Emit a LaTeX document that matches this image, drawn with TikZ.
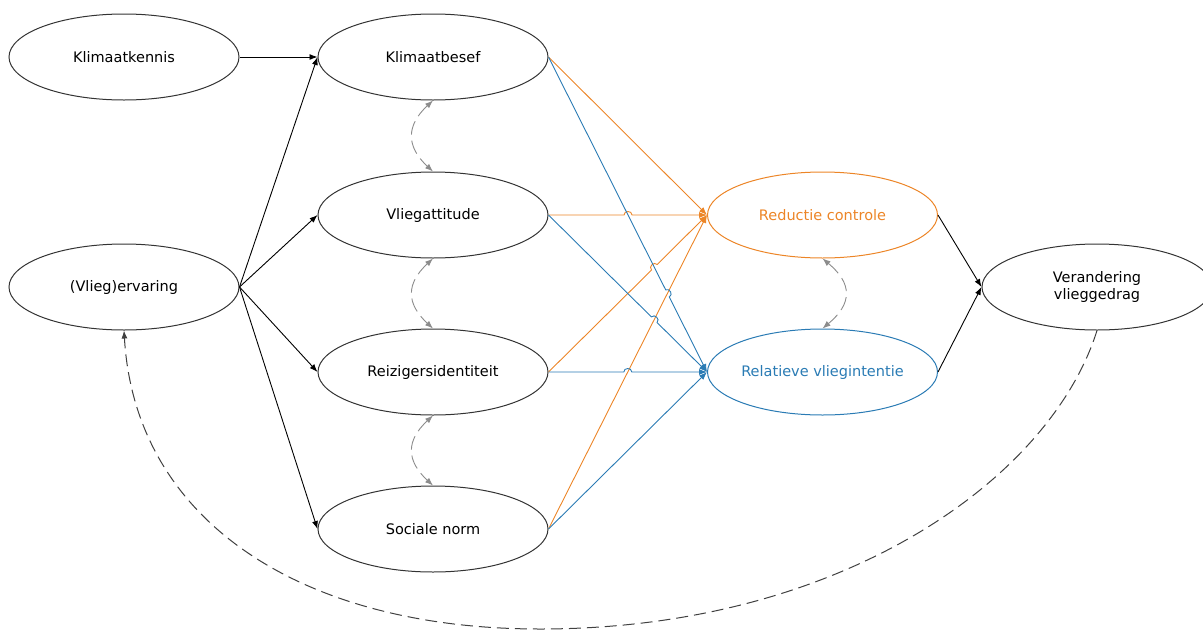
\documentclass[tikz,border=0pt]{standalone}
\usepackage{fontspec}
\setmainfont{DejaVu Sans}
\usetikzlibrary{shapes.geometric,arrows.meta,calc}
\definecolor{myor}{HTML}{EC8527}
\definecolor{mybl}{HTML}{2A7BB4}
\begin{document}
\begin{tikzpicture}[x=1pt,y=1pt,
  el/.style={ellipse, draw=black!80, line width=1pt, minimum width=230pt, minimum height=86pt,
    inner sep=0pt, font=\fontsize{14.5}{17}\selectfont, align=center},
  arr/.style={-{Latex[length=8pt,width=6pt]}, line width=0.9pt},
  hop/.style={bend left=90, looseness=1.5},
  gdash/.style={{Latex[length=8pt,width=6pt]}-{Latex[length=8pt,width=6pt]}, draw=black!45, line width=0.9pt, dash pattern=on 14pt off 6pt},
  bigd/.style={-{Latex[length=8pt,width=6pt]}, draw=black!75, line width=1pt, dash pattern=on 12pt off 6pt}]
\useasboundingbox (0,0) rectangle (1203,-630);
\clip (0,0) rectangle (1203,-630);
% nodes
\node[el] (kk) at (124,-57) {Klimaatkennis};
\node[el] (kb) at (433,-57) {Klimaatbesef};
\node[el] (va) at (433,-215) {Vliegattitude};
\node[el] (ri) at (433,-372) {Reizigersidentiteit};
\node[el] (sn) at (433,-529) {Sociale norm};
\node[el] (erv) at (124,-287) {(Vlieg)ervaring};
\node[el, draw=myor, text=myor] (rc) at (822.5,-215) {Reductie controle};
\node[el, draw=mybl, text=mybl] (rv) at (822.5,-372) {Relatieve vliegintentie};
\node[el] (ver) at (1097,-287) {Verandering\\vlieggedrag};
% black arrows
\draw[arr] (kk.east) -- (kb.west);
\draw[arr] (erv.east) -- (kb.west);
\draw[arr] (erv.east) -- (va.west);
\draw[arr] (erv.east) -- (ri.west);
\draw[arr] (erv.east) -- (sn.west);
\draw[arr] (rc.east) -- (ver.west);
\draw[arr] (rv.east) -- (ver.west);
% crossing points
\coordinate (h1) at (intersection of va.east--rc.west and kb.east--rv.west);
\coordinate (h2) at (intersection of ri.east--rc.west and kb.east--rv.west);
\coordinate (h3) at (intersection of kb.east--rv.west and sn.east--rc.west);
\coordinate (h6) at (intersection of va.east--rv.west and sn.east--rc.west);
\coordinate (h7) at (intersection of ri.east--rv.west and sn.east--rc.west);
% orange arrows
\draw[arr, myor] (kb.east) -- (rc.west);
\draw[arr, myor] (va.east) -- ($(h1)!4pt!(va.east)$) to[hop] ($(h1)!4pt!(rc.west)$) -- (rc.west);
\draw[arr, myor] (ri.east) -- ($(h2)!4pt!(ri.east)$) to[hop] ($(h2)!4pt!(rc.west)$) -- (rc.west);
\draw[arr, myor] (sn.east) -- (rc.west);
% blue arrows
\draw[arr, mybl] (kb.east) -- ($(h3)!4pt!(kb.east)$) to[hop] ($(h3)!4pt!(rv.west)$) -- (rv.west);
\draw[arr, mybl] (va.east) -- ($(h6)!4pt!(va.east)$) to[hop] ($(h6)!4pt!(rv.west)$) -- (rv.west);
\draw[arr, mybl] (ri.east) -- ($(h7)!4pt!(ri.east)$) to[hop] ($(h7)!4pt!(rv.west)$) -- (rv.west);
\draw[arr, mybl] (sn.east) -- (rv.west);
% gray correlations
\draw[gdash] (kb.south) .. controls +(-27,-25) and +(-27,25) .. (va.north);
\draw[gdash] (va.south) .. controls +(-27,-25) and +(-27,25) .. (ri.north);
\draw[gdash] (ri.south) .. controls +(-27,-25) and +(-27,25) .. (sn.north);
\draw[gdash] (rc.south) .. controls +(30,-25) and +(30,25) .. (rv.north);
% feedback
\coordinate (bot) at (540,-629);
\draw[bigd] (ver.south) .. controls (1050,-480) and (840,-629) .. (bot) .. controls (300,-629) and (135,-520) .. (erv.south);
\end{tikzpicture}
\end{document}
